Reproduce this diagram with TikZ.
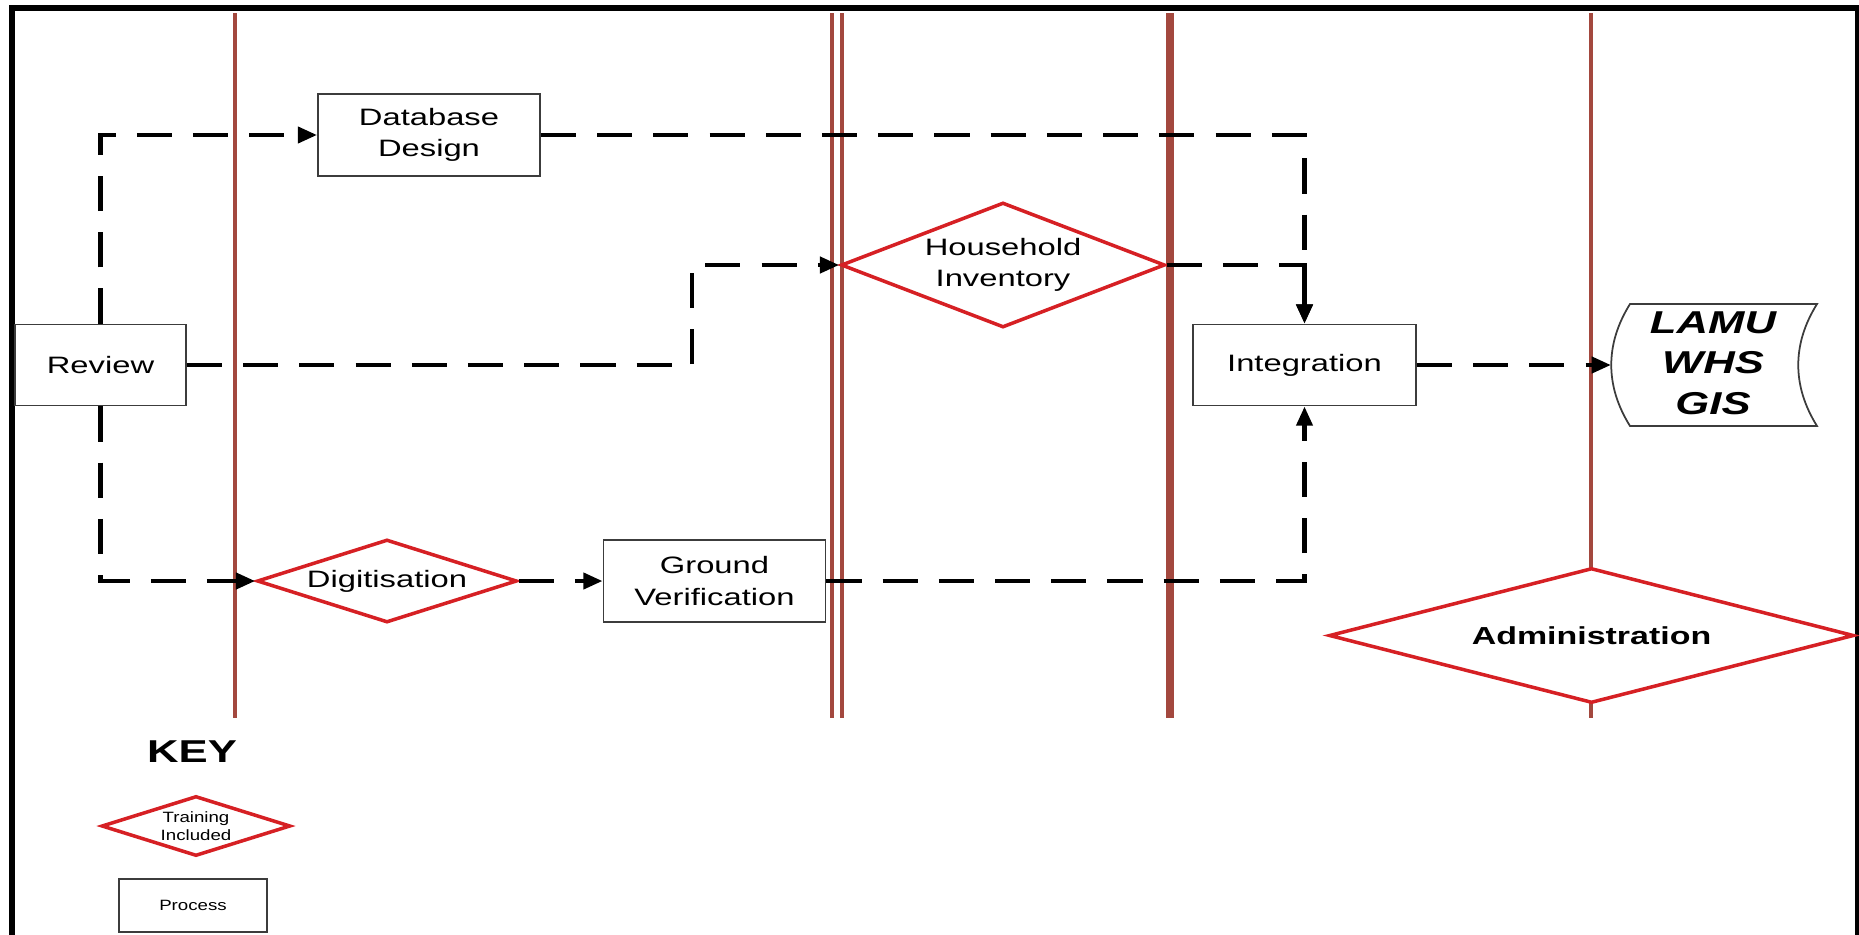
\documentclass[tikz,border=0pt]{standalone}
\usepackage{fontspec}
\setmainfont{Liberation Sans}[FakeStretch=1.38]
\newfontfamily\keyfont{Liberation Sans}[FakeStretch=1.25]
\usetikzlibrary{shapes.geometric,arrows.meta,positioning}
\definecolor{lanebrown}{RGB}{163,72,62}
\definecolor{trainred}{RGB}{214,32,36}
\definecolor{boxgray}{RGB}{60,60,60}

\begin{document}
\begin{tikzpicture}[x=0.02cm,y=-0.02cm,
  lane/.style={draw=lanebrown,line width=2.6pt},
  process/.style={draw=boxgray,line width=1pt,fill=white,inner sep=0pt,align=center,
    font=\fontsize{13.5}{18}\selectfont,minimum width=4.44cm,minimum height=1.63cm},
  training/.style={shape=diamond,draw=trainred,line width=2pt,fill=white,inner sep=0pt,
    align=center,font=\fontsize{13.5}{18}\selectfont},
  flow/.style={line width=2.6pt,dash pattern=on 20pt off 12pt,
    -{Triangle[length=11pt,width=9pt]}}]
\useasboundingbox (0,0) rectangle (1859,934);
    % Frame
    \draw[line width=3.4pt] (12,940) -- (12,8) -- (1858,8) -- (1858,940);

    % Lanes
    \draw[lane] (235,13) -- (235,718);
    \draw[lane] (832,13) -- (832,718);
    \draw[lane] (842,13) -- (842,718);
    \draw[lane,line width=4.3pt] (1170,13) -- (1170,718);
    \draw[lane] (1591,13) -- (1591,718);

    % Processes
    \node[process,minimum width=3.42cm,minimum height=1.62cm] (review) at (100.5,365) {Review};
    \node[process] (dbd) at (429,135) {Database\\Design};
    \node[process] (grv) at (714.5,581) {Ground\\Verification};
    \node[process,minimum width=4.46cm,minimum height=1.62cm] (integ) at (1304.5,365) {Integration};

    % Training included
    \node[training,aspect=2.6,minimum width=6.48cm,minimum height=2.5cm] (hhi) at (1003,265) {Household\\Inventory};
    \node[training,aspect=3.1,minimum width=5.2cm,minimum height=1.66cm] (dig) at (387,581) {Digitisation};
    \node[training,aspect=3.9,minimum width=10.5cm,minimum height=2.7cm,
      font=\fontsize{14}{17}\selectfont\bfseries] (admin) at (1591.5,635.5) {Administration};

    % Output store
    \draw[draw=boxgray,line width=1pt] (1630,304) -- (1817,304)
      .. controls (1792,344) and (1792,386) .. (1817,426) -- (1630,426)
      .. controls (1605,386) and (1605,344) .. cycle;
    \node[align=center,inner sep=0pt,font=\fontsize{18}{23}\selectfont\bfseries\itshape] (lamu) at (1713,363) {LAMU\\WHS\\GIS};
    \coordinate (lamuin) at (1611,365);

    % Key
    \node[font=\fontsize{18}{22}\selectfont\bfseries] (key) at (192,752) {KEY};
    \node[training,aspect=3.2,minimum width=3.78cm,minimum height=1.2cm,
      font=\keyfont\fontsize{8.5}{10}\selectfont] (keytrain) at (196,826) {Training\\Included};
    \node[process,minimum width=2.96cm,minimum height=1.06cm,
      font=\keyfont\fontsize{8.5}{10}\selectfont] (keyproc) at (193,905.5) {Process};

    % Flows
    \coordinate (bend) at (692,365);
    \draw[flow] (review.north) |- (dbd.west);
    \draw[flow] (review.east) -- (bend) |- (hhi.west);
    \draw[flow] (review.south) |- (dig.west);
    \draw[flow] (dig.east) -- (grv.west);
    \draw[flow] (dbd.east) -| (integ.north);
    \draw[flow] (hhi.east) -| (integ.north);
    \draw[flow] (grv.east) -| (integ.south);
    \draw[flow] (integ.east) -- (lamuin);
\end{tikzpicture}
\end{document}
